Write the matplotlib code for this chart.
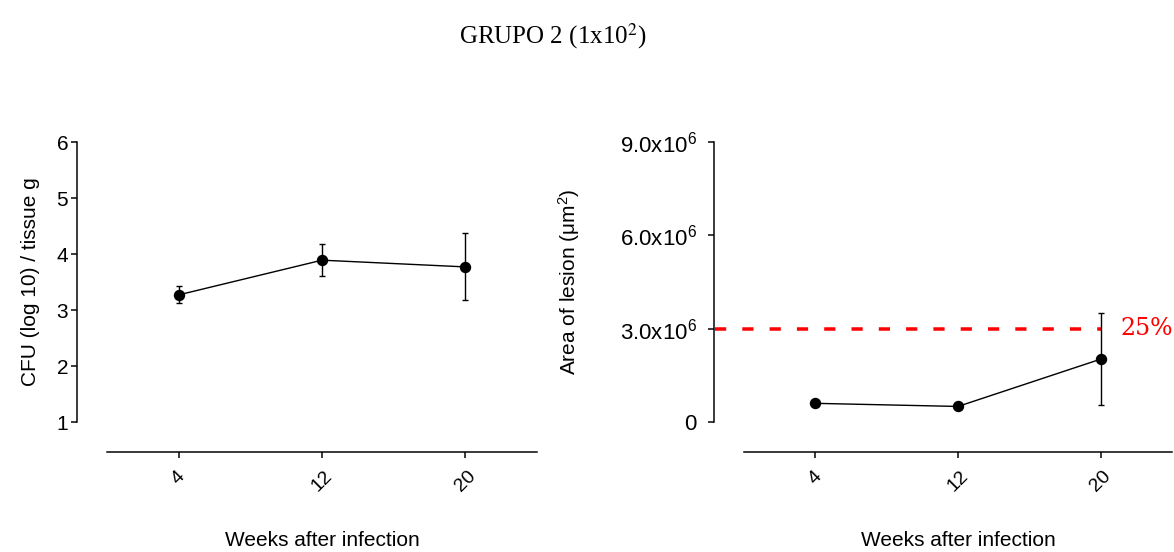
import matplotlib
matplotlib.use("Agg")
import matplotlib.pyplot as plt

plt.rcParams['font.family'] = ['Liberation Sans', 'DejaVu Sans']
plt.rcParams['mathtext.fontset'] = 'custom'
plt.rcParams['mathtext.rm'] = 'Liberation Sans'
plt.rcParams['mathtext.it'] = 'Liberation Sans:italic'

# Dados
WEEKS = [4, 12, 20]

CFU_MEAN = [3.27, 3.89, 3.77]
CFU_LOW = [3.12, 3.61, 3.17]
CFU_HIGH = [3.43, 4.18, 4.37]

AREA_MEAN = [0.60e6, 0.50e6, 2.02e6]
AREA_LOW = [0.60e6, 0.50e6, 0.55e6]
AREA_HIGH = [0.60e6, 0.50e6, 3.50e6]

THRESHOLD = 3.0e6
THRESHOLD_LABEL = '25%'

CFU_TICKS = [1, 2, 3, 4, 5, 6]
AREA_TICKS = [0, 3e6, 6e6, 9e6]
AREA_TICKLABELS = ['0', r'3.0x10$^6$', r'6.0x10$^6$', r'9.0x10$^6$']

PX = 72 / 100  # pixels -> pontos


def style_axis(ax, ypad):
    for s in ['top', 'right']:
        ax.spines[s].set_visible(False)
    ax.spines['left'].set_position(('outward', 30 * PX))
    ax.spines['bottom'].set_position(('outward', 30 * PX))
    for s in ['left', 'bottom']:
        ax.spines[s].set_linewidth(1.5 * PX)
    ax.set_xlim(0, 24)
    ax.set_xticks(WEEKS)
    ax.set_xticklabels([str(w) for w in WEEKS], rotation=45, ha='center',
                       va='top', fontsize=14)
    ax.tick_params(axis='x', length=6 * PX, width=1.5 * PX, pad=7)
    ax.tick_params(axis='y', length=6 * PX, width=1.5 * PX, labelsize=15,
                   pad=ypad)
    ax.set_xlabel('Weeks after infection', fontsize=15, labelpad=26)


def plot_series(ax, mean, low, high):
    yerr = [[m - l for m, l in zip(mean, low)],
            [h - m for m, h in zip(mean, high)]]
    ax.errorbar(WEEKS, mean, yerr=yerr, color='black', lw=1.4 * PX,
                marker='o', markersize=10 * PX, capsize=2, elinewidth=1.4 * PX,
                capthick=1.4 * PX, clip_on=False, zorder=3)


fig = plt.figure(figsize=(11.74, 5.52), dpi=100)
ax1 = fig.add_axes([0.0911, 0.2355, 0.3663, 0.5072])
ax2 = fig.add_axes([0.6337, 0.2355, 0.3646, 0.5072])

fig.text(0.471, 0.935, r'GRUPO 2 (1x10$^{2}$)', ha='center', va='center',
         fontsize=18, family='Liberation Serif', math_fontfamily='stix')

# painel esquerdo: CFU
style_axis(ax1, ypad=2)
plot_series(ax1, CFU_MEAN, CFU_LOW, CFU_HIGH)
ax1.set_ylim(1, 6)
ax1.set_yticks(CFU_TICKS)
ax1.set_ylabel('CFU (log 10) / tissue g', fontsize=15, labelpad=12)

# painel direito: área de lesão
style_axis(ax2, ypad=8)
plot_series(ax2, AREA_MEAN, AREA_LOW, AREA_HIGH)
ax2.set_ylim(0, 9e6)
ax2.set_yticks(AREA_TICKS)
ax2.set_yticklabels(AREA_TICKLABELS, fontsize=16)
ax2.set_ylabel('Area of lesion (\u03bcm$^2$)', fontsize=15, labelpad=27)

ax2.plot([-1.6, WEEKS[-1]], [THRESHOLD, THRESHOLD], color='#ff0000',
         lw=3.5 * PX, ls=(0, (3.2, 4.6)), clip_on=False, zorder=2)
ax2.text(21.1, THRESHOLD, THRESHOLD_LABEL, color='#ff0000', fontsize=17,
         family='DejaVu Serif', ha='left', va='center')

fig.savefig('out.png', dpi=100)
